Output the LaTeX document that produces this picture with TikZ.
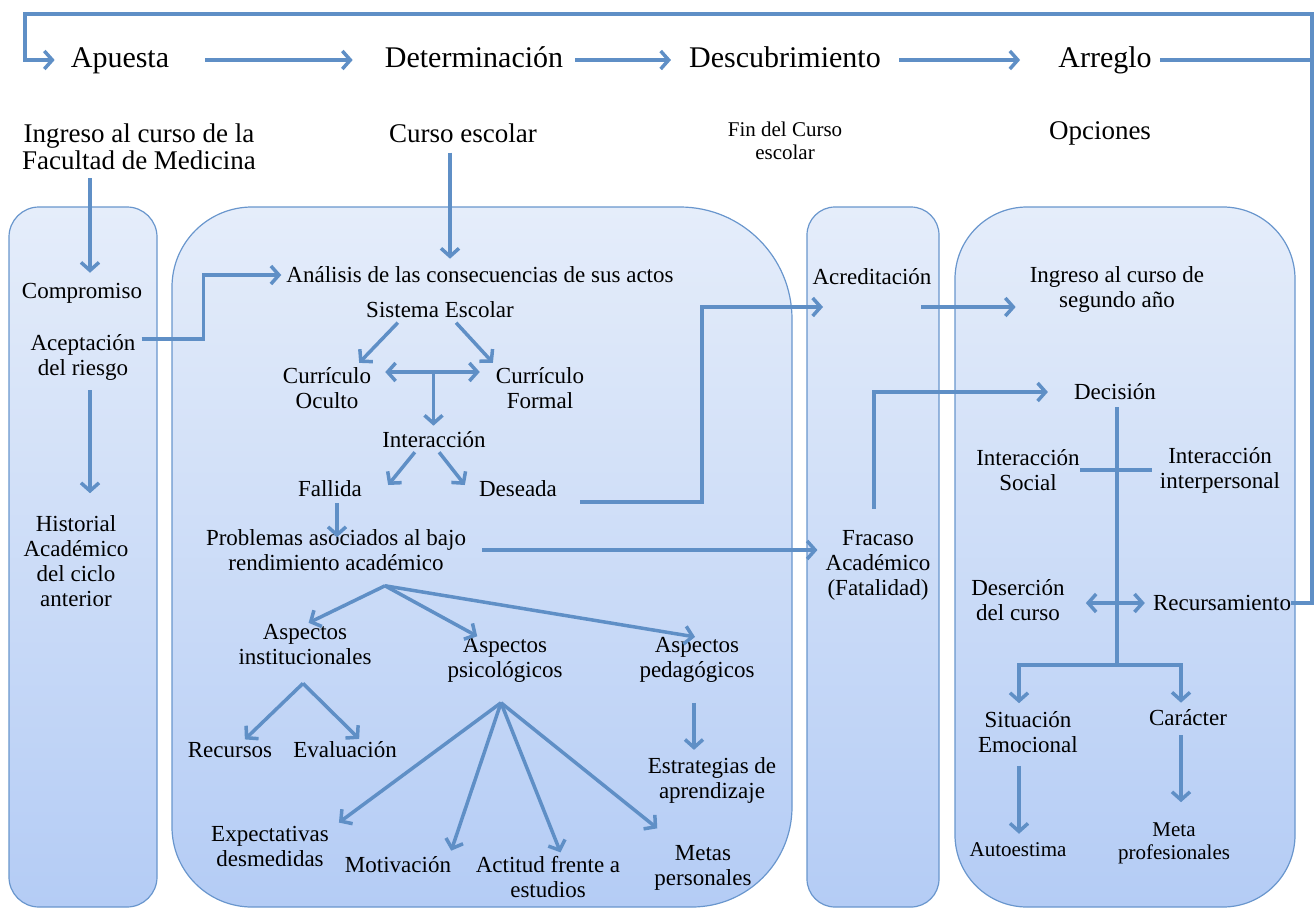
\documentclass[tikz,border=0pt]{standalone}
\usepackage{fontspec}
\setmainfont{Liberation Serif}
\usepackage{tikz}
\usetikzlibrary{arrows.meta}
\definecolor{flowblue}{RGB}{95,143,198}
\definecolor{panelline}{RGB}{105,150,205}
\definecolor{paneltop}{RGB}{229,237,250}
\definecolor{panelbot}{RGB}{180,204,245}

\begin{document}
\begin{tikzpicture}[x=1pt,y=-1pt,
  panel/.style={draw=panelline,line width=1.2pt,top color=paneltop,bottom color=panelbot},
  hdr/.style={font=\fontsize{30}{32}\selectfont,inner sep=0pt,text height=20pt,text depth=6pt},
  sub/.style={font=\fontsize{27}{27}\selectfont,align=center,inner sep=0pt},
  lbl/.style={font=\fontsize{23}{25}\selectfont,align=center,inner sep=0pt},
  sml/.style={font=\fontsize{21}{23}\selectfont,align=center,inner sep=0pt},
  link/.style={draw=flowblue,line width=3.5pt},
  flow/.style={link,-{Straight Barb[length=8pt,width=18pt]}},
  flowtwo/.style={link,{Straight Barb[length=8pt,width=18pt]}-{Straight Barb[length=8pt,width=18pt]}}]
  \useasboundingbox (0,0) rectangle (1315,911);

  \draw[panel,rounded corners=30pt] (9,207) rectangle (157,907);
  \draw[panel] (172,560) [rounded corners=80pt] -- (172,207) [rounded corners=112pt] -- (792,207)
    [rounded corners=100pt] -- (792,907) [rounded corners=80pt] -- (172,907) [sharp corners] -- cycle;
  \draw[panel,rounded corners=28pt] (807,207) rectangle (939,907);
  \draw[panel,rounded corners=72pt] (955,207) rectangle (1295,907);

  \node[hdr] (apuesta) at (120,60) {Apuesta};
  \node[hdr] (determ) at (474,60) {Determinación};
  \node[hdr] (descub) at (785,60) {Descubrimiento};
  \node[hdr] (arreglo) at (1105,60) {Arreglo};

  \node[sub] (ingreso) at (139,147) {Ingreso al curso de la\\Facultad de Medicina};
  \node[sub] (curso) at (463,133) {Curso escolar};
  \node[sml] (fin) at (785,141) {Fin del Curso\\escolar};
  \node[sub] (opciones) at (1100,133) {Opciones};

  \node[lbl] (compromiso) at (82,293) {Compromiso};
  \node[lbl] (aceptacion) at (83,357) {Aceptación\\del riesgo};
  \node[lbl] (historial) at (76,561) {Historial\\Académico\\del ciclo\\anterior};

  \node[lbl] (analisis) at (480,275) {Análisis de las consecuencias de sus actos};
  \node[lbl] (sistema) at (440,310) {Sistema Escolar};
  \node[lbl] (oculto) at (327,388) {Currículo\\Oculto};
  \node[lbl] (formal) at (540,388) {Currículo\\Formal};
  \node[lbl] (interaccion) at (434,440) {Interacción};
  \node[lbl] (fallida) at (330,489) {Fallida};
  \node[lbl] (deseada) at (518,489) {Deseada};
  \node[lbl] (problemas) at (336,550) {Problemas asociados al bajo\\rendimiento académico};
  \node[lbl] (inst) at (305,645) {Aspectos\\institucionales};
  \node[lbl] (psico) at (505,660) {Aspectos\\psicológicos};
  \node[lbl] (pedag) at (697,660) {Aspectos\\pedagógicos};
  \node[lbl] (recursos) at (230,750) {Recursos};
  \node[lbl] (evaluacion) at (345,750) {Evaluación};
  \node[lbl] (estrategias) at (712,780) {Estrategias de\\aprendizaje};
  \node[lbl] (expect) at (270,846) {Expectativas\\desmedidas};
  \node[lbl] (motivacion) at (398,865) {Motivación};
  \node[lbl] (actitud) at (548,877) {Actitud frente a\\estudios};
  \node[lbl] (metas) at (703,868) {Metas\\personales};

  \node[lbl] (acredit) at (872,277) {Acreditación};
  \node[lbl] (fracaso) at (878,565) {Fracaso\\Académico\\(Fatalidad)};

  \node[lbl] (segundo) at (1117,289) {Ingreso al curso de\\segundo año};
  \node[lbl] (decision) at (1115,392) {Decisión};
  \node[lbl] (intsocial) at (1028,470) {Interacción\\Social};
  \node[lbl] (intinter) at (1220,470) {Interacción\\interpersonal};
  \node[lbl] (desercion) at (1018,600) {Deserción\\del curso};
  \node[lbl] (recurs) at (1222,603) {Recursamiento};
  \node[lbl] (situacion) at (1028,732) {Situación\\Emocional};
  \node[lbl] (caracter) at (1188,718) {Carácter};
  \node[sml] (autoestima) at (1018,850) {Autoestima};
  \node[sml] (metaprof) at (1174,843) {Meta\\profesionales};

  \coordinate (topR) at (1312,14);
  \coordinate (topL) at (25,14);
  \coordinate (acin) at (823,307);
  \coordinate (acout) at (921,307);
  \coordinate (fork) at (1117,665);
  \coordinate (pb) at ([xshift=49pt,yshift=-15pt]problemas.south);
  \coordinate (pi) at ([xshift=-2pt,yshift=-18pt]inst.south);
  \coordinate (ps) at ([xshift=-4pt,yshift=-20pt]psico.south);

  \draw[flow,shorten >=16pt] (recurs.east) -| (topR) -- (topL) |- (apuesta.west);
  \draw[link,shorten <=8pt] (arreglo.east) -- (arreglo.east -| topR);
  \draw[flow,shorten <=36pt,shorten >=32pt] (apuesta.east) -- (determ.west);
  \draw[flow,shorten <=12pt,shorten >=18pt] (determ.east) -- (descub.west);
  \draw[flow,shorten <=18pt,shorten >=38pt] (descub.east) -- (arreglo.west);

  \draw[flow,shorten <=8pt,shorten >=10pt] ([xshift=8pt]compromiso.north |- ingreso.south) -- ([xshift=8pt]compromiso.north);
  \draw[flow,shorten <=10pt,shorten >=8pt] ([xshift=-13pt]curso.south) -- ([xshift=-13pt]curso.south |- analisis.north);
  \draw[flow,shorten <=6pt,shorten >=5pt] ([yshift=18pt]aceptacion.east) -- ++(68,0) |- (analisis.west);
  \draw[flow,shorten <=10pt,shorten >=22pt] ([xshift=7pt]aceptacion.south) -- ([xshift=7pt]aceptacion.south |- historial.north);

  \draw[flow,shorten <=6pt,shorten >=6pt] ([xshift=-38pt]sistema.south) -- ([xshift=28pt]oculto.north);
  \draw[flow,shorten <=6pt,shorten >=6pt] ([xshift=12pt]sistema.south) -- ([xshift=-43pt]formal.north);
  \draw[flowtwo,shorten <=14pt,shorten >=16pt] ([yshift=16pt]oculto.east) -- coordinate[pos=0.5] (tee) ([yshift=16pt]formal.west);
  \draw[flow,shorten >=6pt] (tee) -- (tee |- interaccion.north);
  \draw[flow,shorten <=5pt] ([xshift=-16pt]interaccion.south) -- ([xshift=26pt,yshift=4pt]fallida.east);
  \draw[flow,shorten <=5pt] ([xshift=2pt]interaccion.south) -- ([xshift=-14pt,yshift=4pt]deseada.west);
  \draw[flow,shorten <=6pt,shorten >=-8pt] ([xshift=7pt]fallida.south) -- ([xshift=7pt]fallida.south |- problemas.north);
  \draw[flow] ([xshift=23pt,yshift=-13pt]deseada.east) -- ++(122,0) |- (acin);
  \draw[flow,shorten <=16pt,shorten >=8pt] (problemas.east) -- (problemas.east -| fracaso.west);

  \draw[flow,shorten >=4pt] (pb) -- (inst.north);
  \draw[flow,shorten >=2pt] (pb) -- ([xshift=-26pt]psico.north);
  \draw[flow,shorten >=2pt] (pb) -- (pedag.north);
  \draw[flow,shorten >=4pt] (pi) -- ([xshift=12pt]recursos.north);
  \draw[flow,shorten >=4pt] (pi) -- ([xshift=17pt]evaluacion.north);
  \draw[flow] (ps) -- ([xshift=10pt,yshift=3pt]expect.north east);
  \draw[flow] (ps) -- ([yshift=6pt]motivacion.north east);
  \draw[flow,shorten >=4pt] (ps) -- ([xshift=14pt]actitud.north);
  \draw[flow] (ps) -- ([xshift=3pt,yshift=17pt]metas.north west);
  \draw[flow,shorten <=20pt,shorten >=7pt] ([xshift=-3pt]pedag.south) -- ([xshift=-3pt]pedag.south |- estrategias.north);

  \draw[flow,shorten <=21pt,shorten >=26pt] ([xshift=-4pt]fracaso.north) |- (decision.west);
  \draw[flow,shorten >=14pt] (acout) -- (acout -| segundo.west);

  \draw[link,shorten <=7pt] ([xshift=2pt]decision.south) -- (fork);
  \draw[flow,shorten >=8pt] (fork) -| ([xshift=-9pt]situacion.north);
  \draw[flow,shorten >=7pt] (fork) -| ([xshift=-7pt]caracter.north);
  \draw[link,shorten >=8pt] (intsocial.east) -- (intsocial.east -| intinter.west);
  \draw[flowtwo,shorten <=21pt,shorten >=8pt] (recurs.west -| desercion.east) -- (recurs.west);
  \draw[flow,shorten <=13pt,shorten >=9pt] ([xshift=-9pt]situacion.south) -- ([xshift=-9pt]situacion.south |- autoestima.north);
  \draw[flow,shorten <=9pt,shorten >=20pt] ([xshift=-7pt]caracter.south) -- ([xshift=-7pt]caracter.south |- metaprof.north);
\end{tikzpicture}
\end{document}
